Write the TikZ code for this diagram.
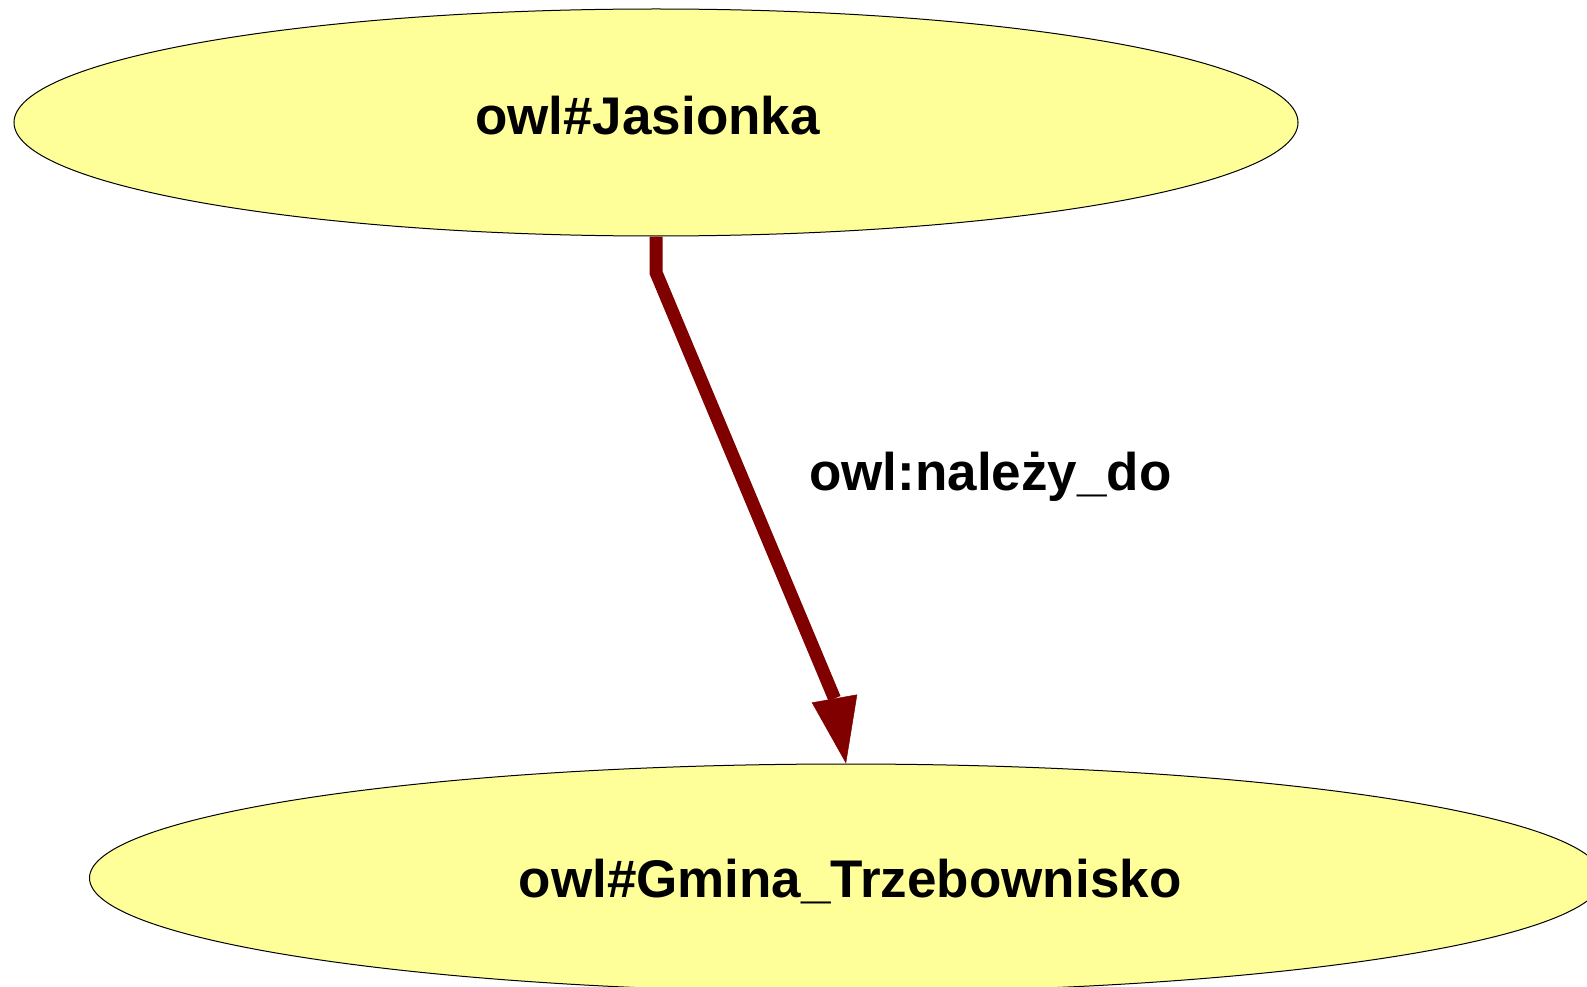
\documentclass[tikz,border=0pt]{standalone}
\usepackage{fontspec}
\setmainfont{Liberation Sans}
\usetikzlibrary{shapes.geometric,arrows.meta}
\definecolor{nodefill}{HTML}{FFFF99}
\definecolor{edgecol}{HTML}{800000}
\begin{document}
\begin{tikzpicture}[x=1pt,y=-1pt,
  owlnode/.style={ellipse,draw=black,line width=1pt,fill=nodefill,inner sep=0pt},
  nodetext/.style={font=\bfseries\fontsize{53}{60}\selectfont,anchor=base,inner sep=0pt},
  labeltext/.style={font=\bfseries\fontsize{53}{60}\selectfont,anchor=base west,inner sep=0pt},
  edgeline/.style={draw=edgecol,line width=13pt,line join=miter},
  edgehead/.style={draw=edgecol,line width=0.5pt,-{Triangle[length=66pt,width=46pt]}}]
\useasboundingbox (0,0) rectangle (1587,987);
\node[owlnode,minimum width=1284pt,minimum height=227pt] (a) at (656,122.5) {};
\node[nodetext] (atext) at (647.5,135) {owl\#Jasionka};
\node[owlnode,minimum width=1513pt,minimum height=228pt] (b) at (846,878) {};
\node[nodetext] (btext) at (850,897) {owl\#Gmina\_Trzebownisko};
\coordinate (hb) at (834.5,698.5);
\draw[edgeline] (a.south) -- ++(0,36) -- (hb);
\draw[edgehead] (hb) -- (b.north);
\node[labeltext] (lab) at (809,490) {owl:należy\_do};
\end{tikzpicture}
\end{document}
